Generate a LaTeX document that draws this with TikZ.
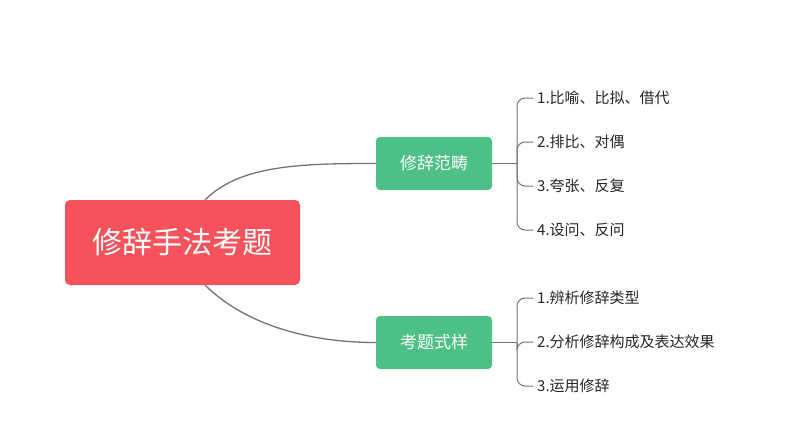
\documentclass[tikz,border=0pt]{standalone}
\usepackage{fontspec}
\setmainfont{Noto Sans CJK SC}
\begin{document}
\begin{tikzpicture}[x=1pt,y=-1pt,
  line/.style={draw=black!55,line width=1.3pt},
  br/.style={draw=black!55,line width=1pt,rounded corners=8pt},
  green/.style={fill=green!50!teal!60!white,rounded corners=4pt,minimum width=116pt,minimum height=53pt,text=white,font=\fontsize{17}{20}\selectfont},
  leaf/.style={anchor=west,inner sep=0pt,font=\fontsize{15}{18}\selectfont,text=black!85}]
\useasboundingbox (0,0) rectangle (794,447);
\definecolor{gr}{HTML}{4DC085}
\definecolor{rd}{HTML}{F5525C}
\node[fill=rd,rounded corners=5pt,minimum width=235pt,minimum height=85pt,text=white,font=\fontsize{30}{34}\selectfont] (root) at (182.5,242.5) {修辞手法考题};
\node[green,fill=gr] (a) at (434,163.5) {修辞范畴};
\node[green,fill=gr] (b) at (434,342.5) {考题式样};
\coordinate (r1) at (205,200);
\coordinate (r2) at (205,285);
\draw[line] (r1) .. controls (240,165) and (300,163.5) .. (a.west);
\draw[line] (r2) .. controls (240,320) and (300,342.5) .. (b.west);
\node[leaf] (a1) at (537,98) {1.比喻、比拟、借代};
\node[leaf] (a2) at (537,142) {2.排比、对偶};
\node[leaf] (a3) at (537,186) {3.夸张、反复};
\node[leaf] (a4) at (537,230) {4.设问、反问};
\node[leaf] (b1) at (537,298) {1.辨析修辞类型};
\node[leaf] (b2) at (537,342) {2.分析修辞构成及表达效果};
\node[leaf] (b3) at (537,386) {3.运用修辞};
\coordinate (ja) at (517,163.5);
\coordinate (jb) at (517,342.5);
\draw[br] (a.east) -- (ja);
\draw[br] (b.east) -- (jb);
\foreach \n in {a1,a2,a3,a4}{\draw[br] (ja) |- ([xshift=-4pt]\n.west);}
\foreach \n in {b1,b2,b3}{\draw[br] (jb) |- ([xshift=-4pt]\n.west);}
\end{tikzpicture}
\end{document}
